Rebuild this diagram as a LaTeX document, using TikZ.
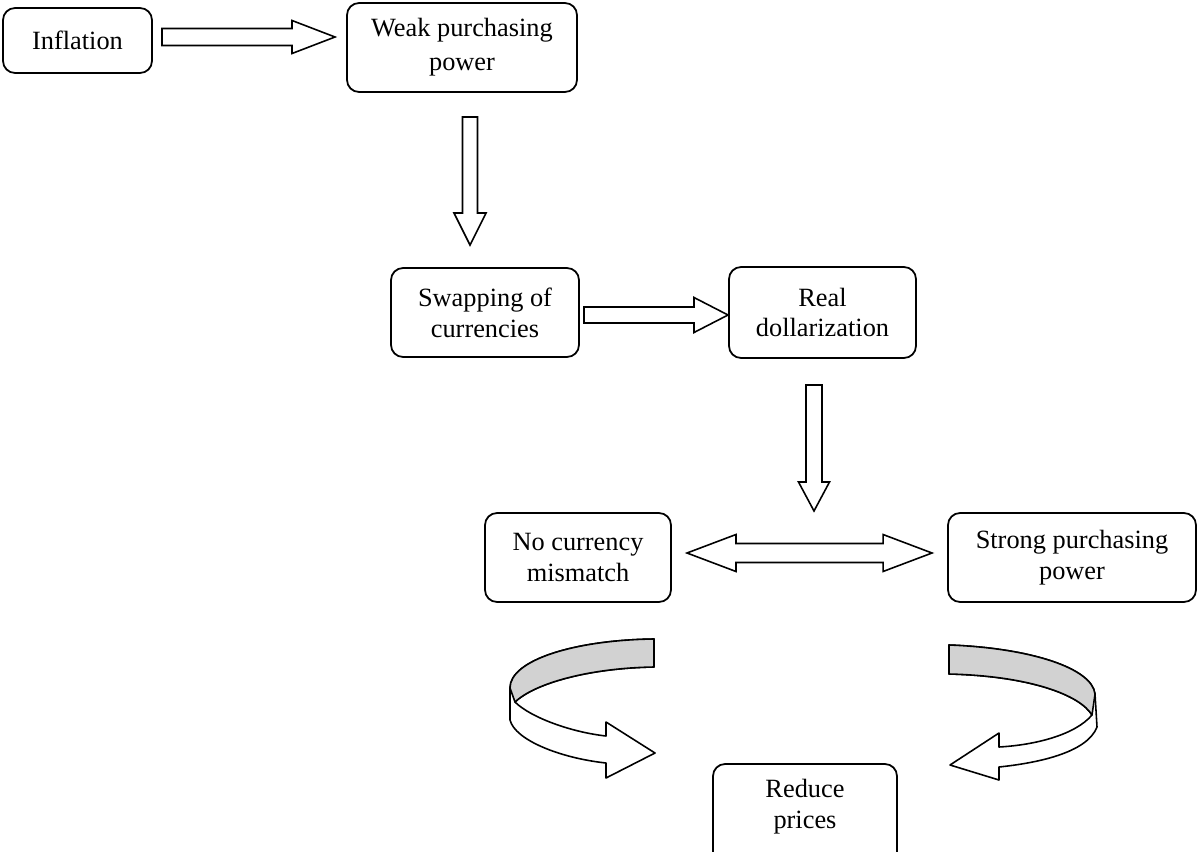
\documentclass[tikz,border=0pt]{standalone}
\usepackage{fontspec}
\setmainfont{Liberation Serif}
\usetikzlibrary{calc}
\definecolor{bandgrey}{RGB}{210,210,210}
\tikzset{
  box/.style={draw, line width=1pt, rounded corners=0.24cm, inner sep=0pt, outer sep=0pt, align=center, font=\fontsize{15}{17.5}\selectfont},
  txt/.style={inner sep=0pt, align=center, font=\fontsize{15}{17.5}\selectfont},
  barrow/.style={draw, fill=white, line width=0.9pt, line join=miter},
  ribbon/.style={draw, fill=white, line width=0.9pt, line join=round},
  band/.style={draw, fill=bandgrey, line width=0.9pt, line join=round}
}
% single block arrow: start, end, shaft half width, head half width, head length
\newcommand\blockarr[5]{%
  \path ($(#2)!#5!(#1)$) coordinate (#1-b);
  \draw[barrow] ($(#1)!#3!90:(#2)$) -- ($(#1-b)!#3!90:(#2)$) -- ($(#1-b)!#4!90:(#2)$) -- (#2)
    -- ($(#1-b)!#4!-90:(#2)$) -- ($(#1-b)!#3!-90:(#2)$) -- ($(#1)!#3!-90:(#2)$) -- cycle;}
% double block arrow
\newcommand\dblockarr[5]{%
  \path ($(#1)!#5!(#2)$) coordinate (#1-b) ($(#2)!#5!(#1)$) coordinate (#2-b);
  \draw[barrow] (#1) -- ($(#1-b)!#4!90:(#2)$) -- ($(#1-b)!#3!90:(#2)$) -- ($(#2-b)!#3!-90:(#1)$)
    -- ($(#2-b)!#4!-90:(#1)$) -- (#2) -- ($(#2-b)!#4!90:(#1)$) -- ($(#2-b)!#3!90:(#1)$)
    -- ($(#1-b)!#3!-90:(#2)$) -- ($(#1-b)!#4!-90:(#2)$) -- cycle;}
\begin{document}
\begin{tikzpicture}[x=0.02cm, y=-0.02cm]
\useasboundingbox (0,0) rectangle (1197,852);
\clip (0,0) rectangle (1197,852);

% boxes
\node[box, minimum width=2.98cm, minimum height=1.30cm] (infl) at (77.5,40.5) {Inflation};
\node[box, minimum width=4.60cm, minimum height=1.78cm, font=\fontsize{15}{19.5}\selectfont] (weak) at (462,47.5) {Weak purchasing\\power};
\node[box, minimum width=3.76cm, minimum height=1.78cm] (swap) at (485,312.5) {Swapping of\\currencies};
\node[box, minimum width=3.74cm, minimum height=1.82cm] (real) at (822.5,312.5) {Real\\dollarization};
\node[box, minimum width=3.72cm, minimum height=1.78cm] (nocur) at (578,557.5) {No currency\\mismatch};
\node[box, minimum width=4.96cm, minimum height=1.78cm] (strong) at (1072,557.5) {Strong purchasing\\power};
\node[box, minimum width=3.68cm, minimum height=2.20cm] (reduce) at (805,819) {};
\node[txt] (reducet) at (805,807) {Reduce\\prices};

% arrow end points
\coordinate (a1s) at ($(infl.east)+(10,-3.5)$);
\coordinate (a1e) at ($(weak.west)+(-12,-10.5)$);
\coordinate (a2s) at ($(weak.south)+(8,25)$);
\coordinate (a2e) at ($(swap.north)+(-15,-23)$);
\coordinate (a3s) at ($(swap.east)+(5,2.5)$);
\coordinate (a3e) at ($(real.west)+(-1,2.5)$);
\coordinate (a4s) at ($(real.south)+(-8.5,27)$);
\coordinate (a4e) at ($(real.south)+(-8.5,153)$);
\coordinate (a5s) at ($(nocur.east)+(16,-4.5)$);
\coordinate (a5e) at ($(strong.west)+(-16,-4.5)$);

\blockarr{a1s}{a1e}{0.17cm}{0.33cm}{0.86cm}
\blockarr{a2s}{a2e}{0.15cm}{0.32cm}{0.64cm}
\blockarr{a3s}{a3e}{0.16cm}{0.35cm}{0.68cm}
\blockarr{a4s}{a4e}{0.16cm}{0.31cm}{0.58cm}
\dblockarr{a5s}{a5e}{0.19cm}{0.37cm}{0.98cm}

% left curved arrow
\draw[ribbon] (654,639) .. controls (575,640) and (510,660) .. (510,688)
  -- (510,720) .. controls (515,740) and (560,758) .. (606,763)
  -- (606,778) -- (655,753) -- (606,722) -- (606,736)
  .. controls (570,732) and (530,717) .. (515,702)
  .. controls (535,683) and (590,668) .. (654,667) -- cycle;
\draw[band] (654,639) .. controls (575,640) and (510,660) .. (510,688)
  -- (515,702) .. controls (535,683) and (590,668) .. (654,667) -- cycle;

% right curved arrow
\draw[ribbon] (949,645) .. controls (1030,648) and (1092,668) .. (1095,694)
  -- (1097,727) .. controls (1087,753) and (1037,763) .. (999,767)
  -- (999,780) -- (950,765) -- (999,733) -- (999,747)
  .. controls (1035,745) and (1075,735) .. (1092,715)
  .. controls (1080,695) and (1030,676) .. (949,674) -- cycle;
\draw[band] (949,645) .. controls (1030,648) and (1092,668) .. (1095,694)
  -- (1092,715) .. controls (1080,695) and (1030,676) .. (949,674) -- cycle;
\end{tikzpicture}
\end{document}
